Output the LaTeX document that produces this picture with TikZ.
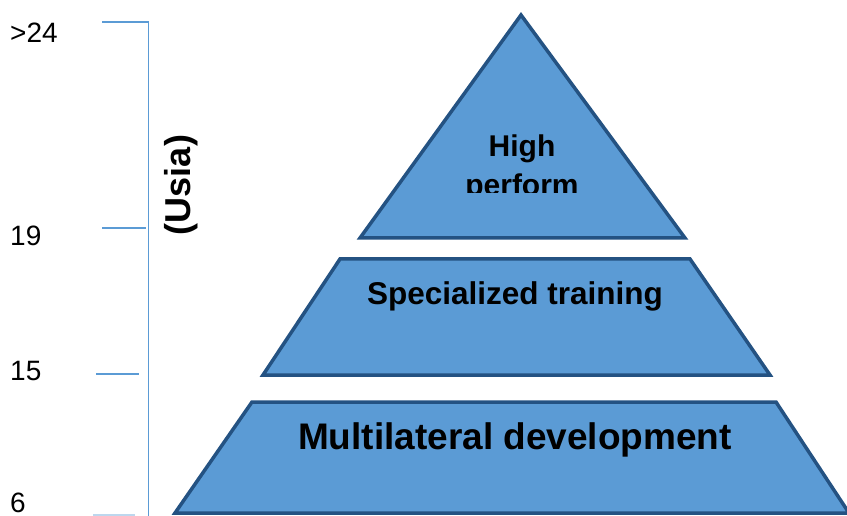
\documentclass[tikz,border=0pt]{standalone}
\usepackage{fontspec}
\setmainfont{Liberation Sans}
\usetikzlibrary{positioning}
\definecolor{tierfill}{HTML}{5B9BD5}
\definecolor{tierline}{HTML}{245282}
\definecolor{axisblue}{HTML}{5B9BD5}

\begin{document}
\begin{tikzpicture}[x=1pt, y=-1pt,
    tier/.style={fill=tierfill, draw=tierline, line width=3.5pt, line join=miter},
    tierlabel/.style={anchor=base, inner sep=0pt, font=\bfseries},
    agelabel/.style={anchor=base west, inner sep=0pt, font=\fontsize{28}{34}\selectfont},
    tick/.style={draw=axisblue, line width=1.6pt}]
    \useasboundingbox (0,0) rectangle (847,516);

    % age axis
    \coordinate (top) at (148.5,22);
    \coordinate (bottom) at (148.5,516);
    \draw[tick] (top) -- (bottom);
    \draw[tick] (102,22) -- (top);
    \draw[tick] (102,228) -- (146,228);
    \draw[tick] (96,374) -- (139,374);
    \draw[tick, axisblue!40] (93,515) -- (135,515);

    \node[agelabel] (a24) at (10,43) {>24};
    \node[agelabel] (a19) at (10,245) {19};
    \node[agelabel] (a15) at (10,380) {15};
    \node[agelabel] (a6)  at (10,512) {6};
    \node[rotate=90, inner sep=0pt, font=\fontsize{36}{42}\selectfont\bfseries] (usia) at (181,185) {(Usia)};

    % pyramid tiers
    \draw[tier] (521,15) -- (685,238) -- (360,238) -- cycle;
    \draw[tier] (340,259) -- (690,259) -- (770,375) -- (263,375) -- cycle;
    \draw[tier] (252,402) -- (776,402) -- (849,513) -- (175,513) -- cycle;

    \begin{scope}
        \clip (360,100) rectangle (685,193);
        \node[anchor=north, inner sep=0pt, align=center, font=\fontsize{30}{39}\selectfont\bfseries]
            (high) at (522,135) {High\\perform};
    \end{scope}
    \node[tierlabel, font=\fontsize{31.5}{38}\selectfont\bfseries] (special) at (515,304) {Specialized training};
    \node[tierlabel, font=\fontsize{37}{44}\selectfont\bfseries] (multi) at (515,449) {Multilateral development};
\end{tikzpicture}
\end{document}
